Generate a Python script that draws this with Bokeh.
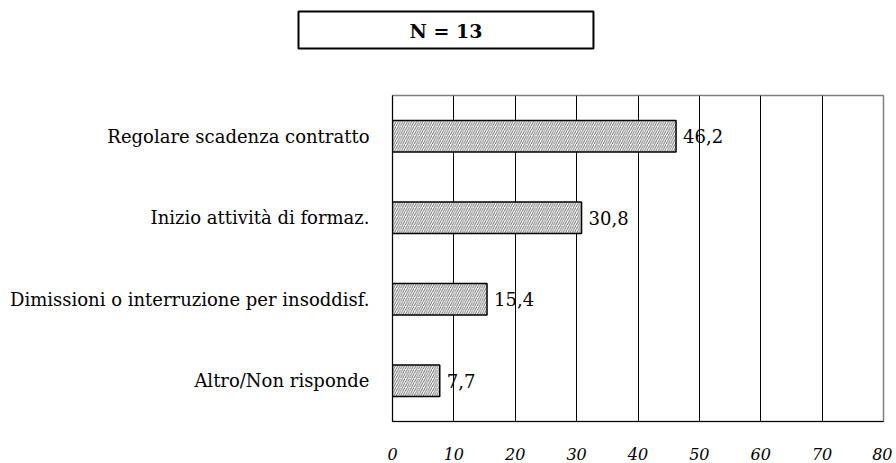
from bokeh.plotting import figure
from bokeh.models import Range1d, FactorRange, FixedTicker, ColumnDataSource, Title
from bokeh.core.properties import value
from bokeh.embed import file_html
from bokeh.resources import INLINE

# ---- data ----
categories = ["Regolare scadenza contratto", "Inizio attività di formaz.",
              "Dimissioni o interruzione per insoddisf.", "Altro/Non risponde"]
values = [46.2, 30.8, 15.4, 7.7]
x_ticks = [0, 10, 20, 30, 40, 50, 60, 70, 80]
title_text = "N = 13"

SERIF = "DejaVu Serif"

source = ColumnDataSource(dict(
    cat=categories,
    val=values,
    lab=[f"{v:.1f}".replace(".", ",") for v in values],
))

p = figure(width=892, height=462, y_range=FactorRange(*reversed(categories)),
           x_range=Range1d(0, 80), output_backend="svg", toolbar_location=None,
           min_border_left=392, min_border_right=9, min_border_top=95,
           min_border_bottom=40)
p.title.text = ""

# spacer panel between the boxed title and the frame
p.add_layout(Title(text=" ", text_font_size="10px", standoff=21,
                   text_color="white"), "above")
# boxed title
p.add_layout(Title(text=title_text, align="left", offset=-94, vertical_align="top",
                   text_font=SERIF, text_font_size="19px",
                   text_font_style="bold", text_color="black",
                   border_line_color="black", border_line_width=2,
                   background_fill_color="white", standoff=22,
                   padding=dict(left=111, right=111, top=8, bottom=7)), "above")

p.hbar(y="cat", right="val", left=0, height=0.385, source=source,
       fill_color="white", line_color="black", line_width=1.5,
       hatch_pattern="/", hatch_color="#444444", hatch_scale=4.5, hatch_weight=0.8)

p.text(x="val", y="cat", text="lab", source=source, x_offset=7,
       text_font=value(SERIF), text_font_size="18px", text_baseline="middle",
       text_align="left", text_color="black")

p.xaxis.ticker = FixedTicker(ticks=x_ticks)
p.xaxis.major_tick_line_color = None
p.xaxis.minor_tick_line_color = None
p.xaxis.axis_line_color = "black"
p.xaxis.major_label_text_font = SERIF
p.xaxis.major_label_text_font_style = "italic"
p.xaxis.major_label_text_font_size = "16px"
p.xaxis.major_label_text_color = "black"
p.xaxis.major_label_standoff = 20

p.yaxis.major_tick_line_color = None
p.yaxis.minor_tick_line_color = None
p.yaxis.axis_line_color = "black"
p.yaxis.major_label_text_font = SERIF
p.yaxis.major_label_text_font_size = "18px"
p.yaxis.major_label_text_color = "black"
p.yaxis.major_label_standoff = 17

p.xgrid.ticker = FixedTicker(ticks=x_ticks)
p.xgrid.grid_line_color = "black"
p.xgrid.grid_line_width = 1
p.ygrid.grid_line_color = None
p.outline_line_color = "#808080"
p.outline_line_width = 1.5

open("out.html", "w").write(file_html(p, INLINE))
